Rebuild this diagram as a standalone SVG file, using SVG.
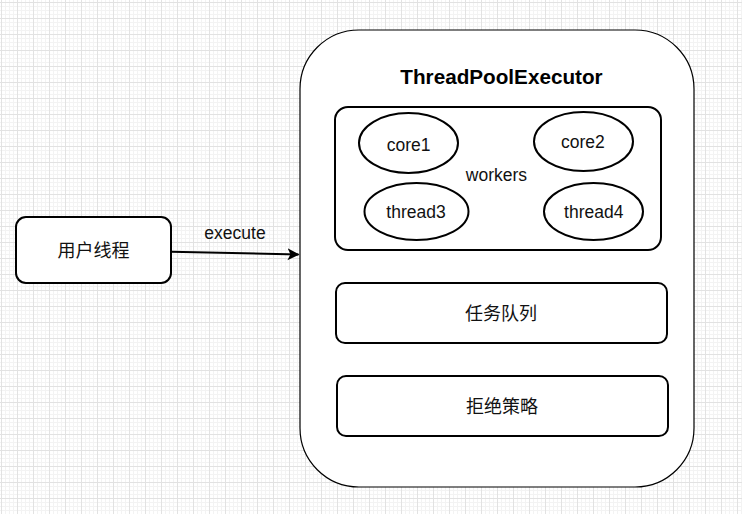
<svg xmlns="http://www.w3.org/2000/svg" width="742" height="514" viewBox="0 0 742 514">
<defs>
<pattern id="grid" patternUnits="userSpaceOnUse" x="1" y="2" width="16" height="16">
<rect x="0" y="0" width="16" height="16" fill="#ffffff"/>
<rect x="4" y="0" width="1" height="16" fill="#f3f3f3"/>
<rect x="8" y="0" width="1" height="16" fill="#f3f3f3"/>
<rect x="12" y="0" width="1" height="16" fill="#f3f3f3"/>
<rect x="0" y="4" width="16" height="1" fill="#f3f3f3"/>
<rect x="0" y="8" width="16" height="1" fill="#f3f3f3"/>
<rect x="0" y="12" width="16" height="1" fill="#f3f3f3"/>
<rect x="0" y="0" width="1" height="16" fill="#e2e2e2"/>
<rect x="0" y="0" width="16" height="1" fill="#e2e2e2"/>
</pattern>
<marker id="arrow" markerUnits="userSpaceOnUse" markerWidth="14" markerHeight="14" refX="11" refY="6" orient="auto">
<path d="M0,0 L12,6 L0,12 L3,6 Z" fill="#000"/>
</marker>
<style>
.box{fill:#fff;stroke:#000;stroke-width:2}
.thin{fill:#fff;stroke:#000;stroke-width:1.2}
.t{font-family:"Liberation Sans",Arial,"Noto Sans CJK SC",sans-serif;font-size:17.5px;fill:#111;text-anchor:middle}
.cjk{font-family:"Liberation Sans","Noto Sans CJK SC",sans-serif;font-size:18px;fill:#111;text-anchor:middle}
.title{font-family:"Liberation Sans",Arial,sans-serif;font-size:20.7px;font-weight:bold;fill:#000;text-anchor:middle}
</style>
</defs>
<rect x="0" y="0" width="742" height="514" fill="url(#grid)"/>

<g id="user-thread">
<rect class="box" x="16" y="217" width="155" height="66" rx="10"/>
<text class="cjk" x="93.5" y="257">用户线程</text>
</g>

<g id="executor">
<rect class="thin" x="300" y="30" width="394" height="457" rx="59"/>
<text class="title" x="501.5" y="84">ThreadPoolExecutor</text>
</g>

<g id="workers">
<rect class="box" x="335" y="107" width="326" height="143" rx="13"/>
<text class="t" x="496.5" y="180.5">workers</text>
</g>

<g id="core1">
<ellipse class="box" cx="408.5" cy="143" rx="49.5" ry="30"/>
<text class="t" x="408.7" y="150.7">core1</text>
</g>

<g id="core2">
<ellipse class="box" cx="583.5" cy="141.5" rx="49.5" ry="29.5"/>
<text class="t" x="582.8" y="148.3">core2</text>
</g>

<g id="thread3">
<ellipse class="box" cx="416.5" cy="211.5" rx="52" ry="28.5"/>
<text class="t" x="416" y="218.3">thread3</text>
</g>

<g id="thread4">
<ellipse class="box" cx="593.5" cy="211.5" rx="49.5" ry="28.5"/>
<text class="t" x="593.8" y="218.3">thread4</text>
</g>

<g id="task-queue">
<rect class="box" x="336" y="283" width="331" height="60" rx="9"/>
<text class="cjk" x="501" y="319.5">任务队列</text>
</g>

<g id="reject-policy">
<rect class="box" x="337" y="376" width="331" height="60" rx="9"/>
<text class="cjk" x="502" y="413">拒绝策略</text>
</g>

<g id="connectors">
<line x1="171" y1="251.8" x2="298.5" y2="254.5" stroke="#000" stroke-width="2" marker-end="url(#arrow)"/>
<text class="t" x="235" y="239">execute</text>
</g>
</svg>
